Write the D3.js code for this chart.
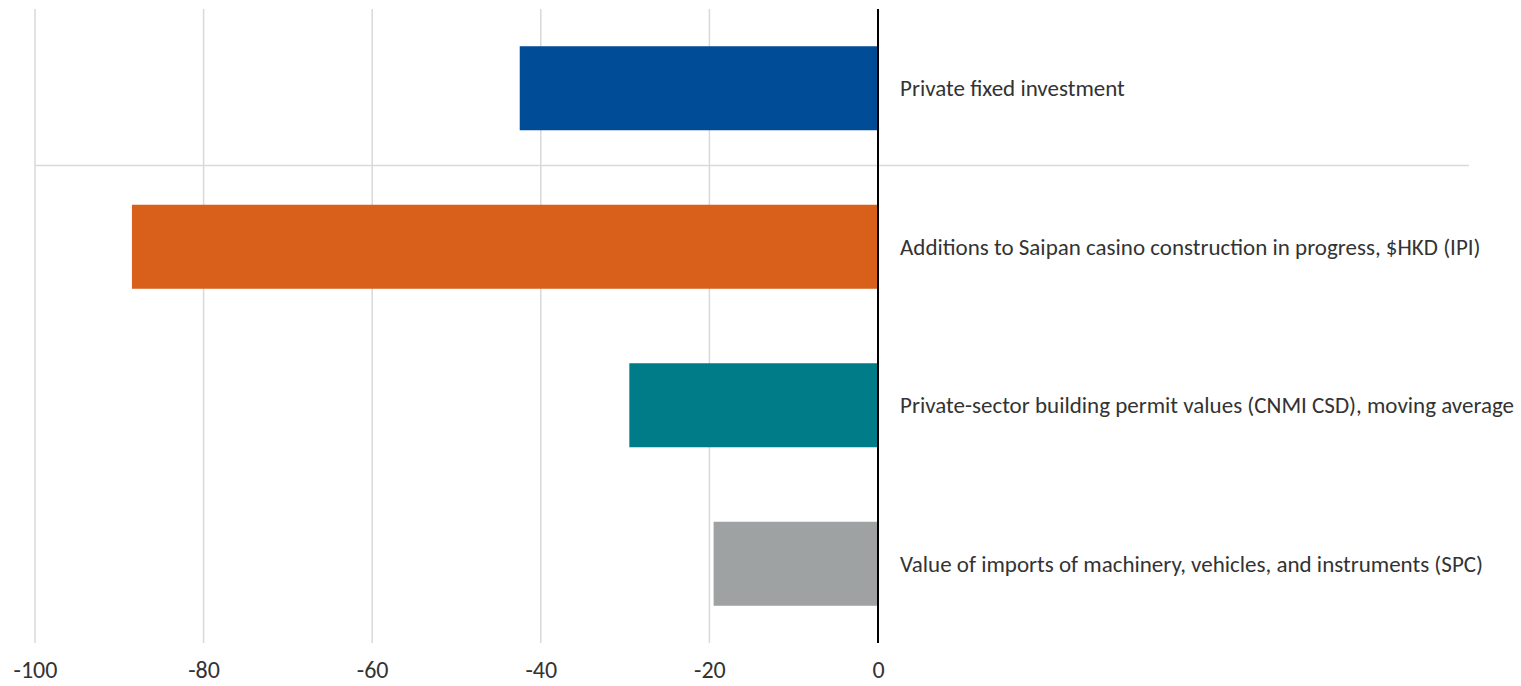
<!DOCTYPE html>
<html>
<head>
<meta charset="utf-8">
<script src="https://cdn.jsdelivr.net/npm/d3@7"></script>
<style>
  body { margin: 0; background: #fff; }
  svg text { font-family: Calibri, Carlito, "Open Sans", "Noto Sans", sans-serif; }
</style>
</head>
<body>
<div id="chart"></div>
<script>
const categories = [
  "Private fixed investment",
  "Additions to Saipan casino construction in progress, $HKD (IPI)",
  "Private-sector building permit values (CNMI CSD), moving average",
  "Value of imports of machinery, vehicles, and instruments (SPC)",
];
const values = [-42.5, -88.5, -29.5, -19.5];
const barColors = ["#004c97", "#d9601a", "#007c89", "#9ea2a2"];
const xTicks = [-100, -80, -60, -40, -20, 0];

const width = 1521;
const height = 686;
const margin = { top: 9, right: 643, bottom: 43, left: 35 };

const svg = d3.select("#chart")
  .append("svg")
  .attr("width", width)
  .attr("height", height);

const x = d3.scaleLinear()
  .domain([-100, 0])
  .range([margin.left, width - margin.right]);

const y = d3.scaleBand()
  .domain(categories)
  .range([margin.top, height - margin.bottom])
  .paddingInner(0.47)
  .paddingOuter(0.235);

// vertical gridlines
svg.append("g")
  .selectAll("line")
  .data(xTicks.filter((d) => d !== 0))
  .join("line")
  .attr("x1", (d) => x(d))
  .attr("x2", (d) => x(d))
  .attr("y1", margin.top)
  .attr("y2", height - margin.bottom)
  .attr("stroke", "#d9d9d9")
  .attr("stroke-width", 1.5);

// stray horizontal rule between first and second category
const ruleY = y(categories[1]) - y.step() * y.paddingInner() / 2 - 2;
svg.append("line")
  .attr("x1", x(-100))
  .attr("x2", 1469)
  .attr("y1", ruleY)
  .attr("y2", ruleY)
  .attr("stroke", "#d9d9d9")
  .attr("stroke-width", 1.5);

// bars
svg.append("g")
  .selectAll("rect")
  .data(values)
  .join("rect")
  .attr("x", (d) => x(d))
  .attr("width", (d) => x(0) - x(d))
  .attr("y", (d, i) => y(categories[i]))
  .attr("height", y.bandwidth())
  .attr("fill", (d, i) => barColors[i]);

// zero line
svg.append("line")
  .attr("x1", x(0))
  .attr("x2", x(0))
  .attr("y1", margin.top)
  .attr("y2", height - margin.bottom)
  .attr("stroke", "#000")
  .attr("stroke-width", 2);

// category labels right of zero
svg.append("g")
  .selectAll("text")
  .data(categories)
  .join("text")
  .attr("x", x(0) + 22)
  .attr("y", (d) => y(d) + y.bandwidth() / 2)
  .attr("dominant-baseline", "central")
  .attr("fill", "#333")
  .style("font-size", "23px")
  .text((d) => d);

// x axis labels
const xAxis = d3.axisBottom(x)
  .tickValues(xTicks)
  .tickSize(0)
  .tickPadding(0)
  .tickFormat((d) => String(d));

const axisG = svg.append("g")
  .attr("transform", `translate(0, ${height - 8})`)
  .call(xAxis);
axisG.select(".domain").remove();
axisG.selectAll("text")
  .attr("dy", null)
  .attr("y", 0)
  .attr("fill", "#333")
  .style("font-size", "24px")
  .style("font-family", 'Calibri, Carlito, "Open Sans", "Noto Sans", sans-serif');
</script>
</body>
</html>
